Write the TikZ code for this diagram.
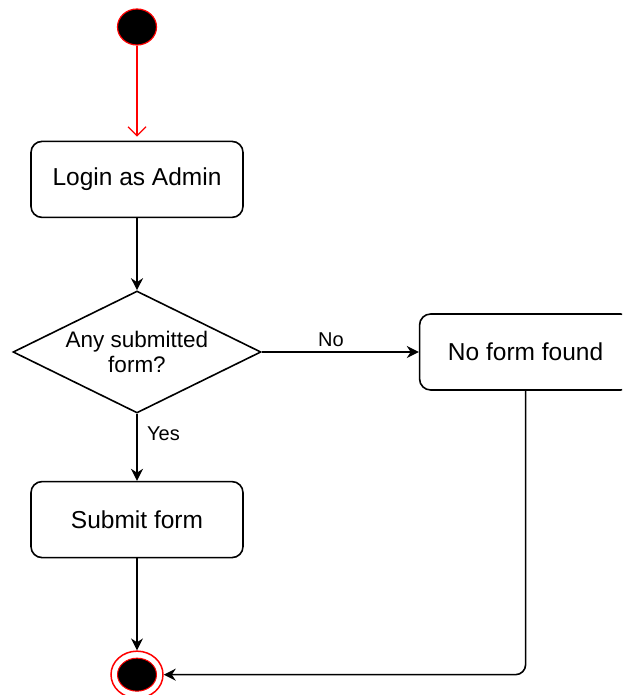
\documentclass[tikz,border=0pt]{standalone}
\usepackage{fontspec}
\setmainfont{Liberation Sans}
\usepackage{tikz}
\usetikzlibrary{positioning,shapes.geometric,arrows.meta}

\begin{document}
\begin{tikzpicture}[x=1pt, y=-1pt, line width=1.6pt,
    every node/.style={font=\fontsize{24.5}{28}\selectfont},
    box/.style={draw, rounded corners=11pt, minimum width=212pt, minimum height=76pt, inner sep=0pt},
    decision/.style={draw, diamond, aspect=2, inner sep=0pt, minimum width=248pt, minimum height=122pt,
        align=center, font=\fontsize{22.5}{25}\selectfont},
    startNode/.style={ellipse, draw=red, fill=black, line width=1.2pt, minimum width=39pt, minimum height=36pt, inner sep=0pt},
    endOuter/.style={ellipse, draw=red, fill=white, line width=1.5pt, minimum width=52pt, minimum height=47pt, inner sep=0pt},
    endInner/.style={ellipse, draw=red, fill=black, line width=1pt, minimum width=39pt, minimum height=33pt, inner sep=0pt},
    lbl/.style={font=\fontsize{20}{23}\selectfont},
    >={Stealth[length=12pt, width=12pt]}]

    \useasboundingbox (0,0) rectangle (622,695);
    \clip (0,0) rectangle (622,695);

    % Start
    \node[startNode] (start) at (137,27) {};

    % Aktionen und Entscheidung
    \node[box, below=95pt of start] (login) {Login as Admin};
    \node[decision, below=72pt of login] (anyForm) {Any submitted\\form?};
    \node[box, below=67pt of anyForm] (submit) {Submit form};
    \node[box, right=157pt of anyForm] (noForm) {No form found};

    % Ende
    \node[endOuter, below=92pt of submit] (stop) {};
    \node[endInner] at (stop) {};

    % Verbindungslinien
    \draw[red, line width=1.2pt, -{Straight Barb[length=9pt, width=18pt]}, shorten >=4pt] (start) -- (login);
    \draw[->] (anyForm) -- node[lbl, above, pos=0.44, yshift=1pt] {No} (noForm);
    \draw[->] (anyForm) -- node[lbl, right, pos=0.3, xshift=6pt] {Yes} (submit);
    \foreach \source/\dest in {login/anyForm, submit/stop} {
        \draw[->] (\source) -- (\dest);
    }
    \draw[->, rounded corners=10pt] (noForm.south) |- (stop.east);
\end{tikzpicture}
\end{document}
